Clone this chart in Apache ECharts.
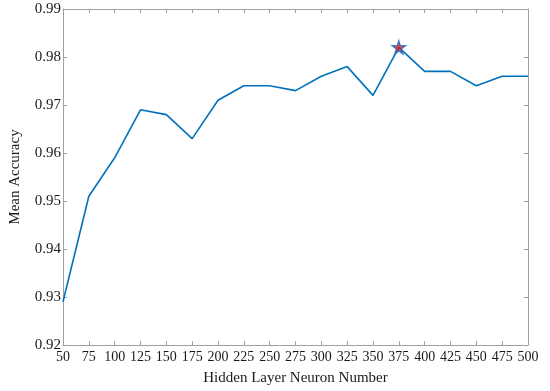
<!DOCTYPE html>
<html>
<head>
<meta charset="utf-8">
<script src="https://cdn.jsdelivr.net/npm/echarts@6/dist/echarts.min.js"></script>
<style>html,body{margin:0;padding:0;background:#fff}#main{width:550px;height:391px}</style>
</head>
<body>
<div id="main"></div>
<script>
// hidden layer neuron counts
let neurons=[50,75,100,125,150,175,200,225,250,275,300,325,350,375,400,425,450,475,500];
// mean accuracy per count
let accuracy=[0.929,0.951,0.959,0.969,0.968,0.963,0.971,0.974,0.974,0.973,0.976,0.978,0.972,0.982,0.977,0.977,0.974,0.976,0.976];
let bestPoint=[375,0.982];

let starPath="path://M50,0 L61.8,36.2 L100,36.2 L69.1,58.6 L80.9,95.1 L50,72.4 L19.1,95.1 L30.9,58.6 L0,36.2 L38.2,36.2 Z";
let fontFamily="'Liberation Serif','DejaVu Serif',serif";
let axisColor="#a0a0a0";
let textColor="#1a1a1a";

let chart=echarts.init(document.getElementById("main"));
let lineData=neurons.map(function(n,i){return [n,accuracy[i]];});

let baseX={
	type:"value",min:50,max:500,interval:25,
	axisLine:{show:true,lineStyle:{color:axisColor,width:1}},
	axisTick:{show:true,inside:true,length:4,lineStyle:{color:axisColor}},
	splitLine:{show:false}
};
let baseY={
	type:"value",min:0.92,max:0.99,interval:0.01,
	axisLine:{show:true,lineStyle:{color:axisColor,width:1}},
	axisTick:{show:true,inside:true,length:4,lineStyle:{color:axisColor}},
	splitLine:{show:false}
};

chart.setOption({
	animation:false,
	grid:{left:53,right:22,top:9,bottom:45},
	xAxis:[
		Object.assign({},baseX,{
			position:"bottom",
			name:"Hidden Layer Neuron Number",nameLocation:"middle",nameGap:26,
			nameTextStyle:{fontFamily:fontFamily,fontSize:15,color:textColor},
			axisLabel:{fontFamily:fontFamily,fontSize:14,color:textColor,margin:5}
		}),
		Object.assign({},baseX,{position:"top",axisLabel:{show:false}})
	],
	yAxis:[
		Object.assign({},baseY,{
			position:"left",
			name:"Mean Accuracy",nameLocation:"middle",nameGap:40,
			nameTextStyle:{fontFamily:fontFamily,fontSize:15,color:textColor},
			axisLabel:{fontFamily:fontFamily,fontSize:15,color:textColor,margin:2,
				formatter:function(v){return v.toFixed(2);}}
		}),
		Object.assign({},baseY,{position:"right",axisLabel:{show:false}})
	],
	series:[
		{
			type:"line",data:lineData,
			showSymbol:false,symbol:"none",
			lineStyle:{color:"#0072BD",width:1.6}
		},
		{
			type:"scatter",data:[bestPoint],
			symbol:starPath,symbolSize:13,
			itemStyle:{color:"#e8141b",borderColor:"#1f6fbf",borderWidth:1.5},
			z:5
		}
	]
});
</script>
</body>
</html>
